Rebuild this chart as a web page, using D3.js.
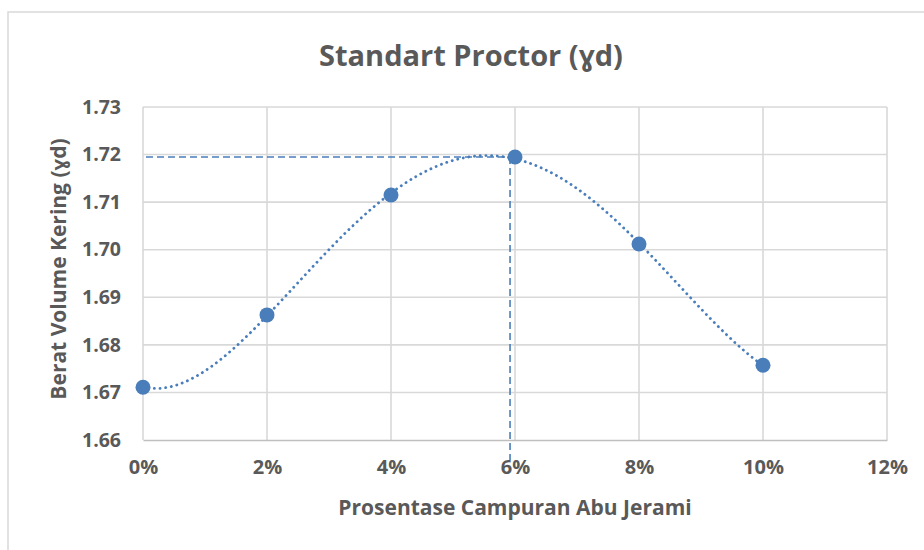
<!DOCTYPE html>
<html>
<head>
<meta charset="utf-8">
<script src="https://cdn.jsdelivr.net/npm/d3@7"></script>
<style>
  html, body { margin: 0; padding: 0; background: #fff; }
  svg { display: block; }
</style>
</head>
<body>
<svg id="chart" width="924" height="550"></svg>
<script>
// ---- data ----
const campuran = [0, 2, 4, 6, 8, 10];            // % abu jerami
const beratKering = [1.6711, 1.6863, 1.7115, 1.7195, 1.7012, 1.6757];
const xTicks = [0, 2, 4, 6, 8, 10, 12];
const yTicks = [1.66, 1.67, 1.68, 1.69, 1.70, 1.71, 1.72, 1.73];
const optimumX = [5.92];      // dashed guide (x)
const optimumY = [1.7195];    // dashed guide (y)
const trendOrder = 4;

const title = "Standart Proctor (ɣd)";
const xTitle = "Prosentase Campuran Abu Jerami";
const yTitle = "Berat Volume Kering (ɣd)";

// ---- layout ----
const svg = d3.select("#chart");
const pLeft = 143, pRight = 887, pTop = 107, pBottom = 440;
const x = d3.scaleLinear().domain([0, 12]).range([pLeft, pRight]);
const y = d3.scaleLinear().domain([1.66, 1.73]).range([pBottom, pTop]);
const blue = "#4a7ebb", grid = "#d9d9d9", textCol = "#595959";

// frame
svg.append("path").attr("d", "M8,550 V12 H924")
  .attr("fill", "none").attr("stroke", "#d9d9d9").attr("stroke-width", 1.5);

// gridlines
svg.append("g").selectAll("line").data(yTicks.slice(1)).join("line")
  .attr("x1", pLeft).attr("x2", pRight)
  .attr("y1", d => y(d)).attr("y2", d => y(d))
  .attr("stroke", grid).attr("stroke-width", 1.6);
svg.append("g").selectAll("line").data(xTicks).join("line")
  .attr("x1", d => x(d)).attr("x2", d => x(d))
  .attr("y1", pTop).attr("y2", pBottom)
  .attr("stroke", grid).attr("stroke-width", 1.6);

// axes (labels only, via d3 axes)
const xAxis = svg.append("g").attr("transform", `translate(0,${pBottom})`)
  .call(d3.axisBottom(x).tickValues(xTicks).tickSize(0).tickPadding(20)
    .tickFormat(d => d + "%"));
xAxis.select(".domain").attr("stroke", "#bfbfbf").attr("stroke-width", 1.6);
xAxis.selectAll("text").attr("fill", textCol)
  .style("font-family", "'Open Sans', sans-serif").style("font-weight", "700")
  .style("font-size", "20px");

const yAxis = svg.append("g").attr("transform", `translate(${pLeft},0)`)
  .call(d3.axisLeft(y).tickValues(yTicks).tickSize(0).tickPadding(22)
    .tickFormat(d3.format(".2f")));
yAxis.select(".domain").remove();
yAxis.selectAll("text").attr("fill", textCol)
  .style("font-family", "'Open Sans', sans-serif").style("font-weight", "700")
  .style("font-size", "19.5px");

// titles
svg.append("text").attr("x", 471).attr("y", 66).attr("text-anchor", "middle")
  .attr("fill", textCol).style("font-family", "'Open Sans', sans-serif")
  .style("font-weight", "700").style("font-size", "29px").text(title);
svg.append("text").attr("x", 515).attr("y", 515).attr("text-anchor", "middle")
  .attr("fill", textCol).style("font-family", "'Open Sans', sans-serif")
  .style("font-weight", "700").style("font-size", "21px").text(xTitle);
svg.append("text").attr("transform", `translate(66,269) rotate(-90)`)
  .attr("text-anchor", "middle")
  .attr("fill", textCol).style("font-family", "'Open Sans', sans-serif")
  .style("font-weight", "700").style("font-size", "21px").text(yTitle);

// polynomial trendline (least squares fit of the data)
function polyfit(xs, ys, n) {
  const m = n + 1;
  const A = Array.from({length: m}, () => new Array(m + 1).fill(0));
  for (let r = 0; r < m; r++) {
    for (let c = 0; c < m; c++) A[r][c] = d3.sum(xs, v => Math.pow(v, r + c));
    A[r][m] = d3.sum(xs, (v, i) => ys[i] * Math.pow(v, r));
  }
  for (let i = 0; i < m; i++) {
    let p = i;
    for (let k = i + 1; k < m; k++) if (Math.abs(A[k][i]) > Math.abs(A[p][i])) p = k;
    [A[i], A[p]] = [A[p], A[i]];
    for (let k = i + 1; k < m; k++) {
      const f = A[k][i] / A[i][i];
      for (let j = i; j <= m; j++) A[k][j] -= f * A[i][j];
    }
  }
  const c = new Array(m).fill(0);
  for (let i = m - 1; i >= 0; i--) {
    let s = A[i][m];
    for (let j = i + 1; j < m; j++) s -= A[i][j] * c[j];
    c[i] = s / A[i][i];
  }
  return c;
}
const coef = polyfit(campuran, beratKering, trendOrder);
const fx = v => coef.reduce((s, c, i) => s + c * Math.pow(v, i), 0);
const xs = d3.range(d3.min(campuran), d3.max(campuran) + 0.001, 0.05);
svg.append("path")
  .attr("d", d3.line().x(d => x(d)).y(d => y(fx(d)))(xs))
  .attr("fill", "none").attr("stroke", blue).attr("stroke-width", 2.8)
  .attr("stroke-linecap", "round").attr("stroke-dasharray", "0.1 5.6");

// dashed guides
svg.append("line")
  .attr("x1", x(0) + 3).attr("x2", x(optimumX[0]) + 4)
  .attr("y1", y(optimumY[0])).attr("y2", y(optimumY[0]))
  .attr("stroke", blue).attr("stroke-width", 1.6).attr("stroke-dasharray", "7 4");
svg.append("line")
  .attr("x1", x(optimumX[0])).attr("x2", x(optimumX[0]))
  .attr("y1", y(optimumY[0])).attr("y2", pBottom + 20)
  .attr("stroke", blue).attr("stroke-width", 1.6).attr("stroke-dasharray", "7 4");

// points
svg.append("g").selectAll("circle").data(campuran).join("circle")
  .attr("cx", d => x(d)).attr("cy", (d, i) => y(beratKering[i]))
  .attr("r", 7.5).attr("fill", blue);
</script>
</body>
</html>
